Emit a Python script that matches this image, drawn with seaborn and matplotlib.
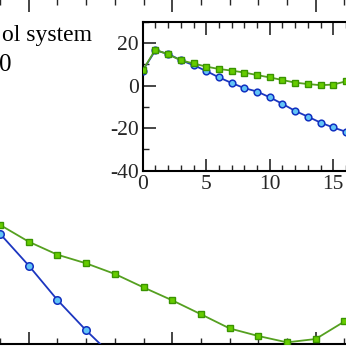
import matplotlib
matplotlib.use("Agg")
import matplotlib.pyplot as plt
import seaborn as sns
from matplotlib.ticker import MultipleLocator

# Data (same series shown in main panel and inset)
steps = [0, 1, 2, 3, 4, 5, 6, 7, 8, 9, 10, 11, 12, 13, 14, 15, 16]
green_vals = [7.1, 16.9, 14.6, 11.9, 10.37, 8.91, 7.78, 7.03, 6.11, 4.94,
              3.82, 2.61, 1.38, 0.72, 0.17, 0.46, 1.98]
blue_vals = [7.0, 16.5, 14.9, 11.9, 9.6, 6.84, 3.85, 1.21, -1.2, -2.8,
             -5.5, -8.6, -11.9, -14.6, -17.4, -19.7, -21.7]
inset_xticks = [0, 5, 10, 15]
inset_yticks = [-40, -20, 0, 20]

sns.set_style("ticks")
plt.rcParams['font.family'] = ['Liberation Serif', 'DejaVu Serif']
plt.rcParams['axes.unicode_minus'] = False

W = 346.0
fig = plt.figure(figsize=(3.46, 3.46), dpi=100)

GREEN_LINE = "#55a020"
GREEN_FACE = "#66cc00"
GREEN_EDGE = "#3a9400"
BLUE_LINE = "#1c36c0"
BLUE_FACE = "#62c4f6"
BLUE_EDGE = "#1030c0"


def draw_series(ax, msq, mci):
    sns.lineplot(x=steps, y=blue_vals, ax=ax, color=BLUE_LINE, linewidth=1.3,
                 marker='o', markersize=mci, markerfacecolor=BLUE_FACE,
                 markeredgecolor=BLUE_EDGE, markeredgewidth=1.1, zorder=3)
    sns.lineplot(x=steps, y=green_vals, ax=ax, color=GREEN_LINE, linewidth=1.3,
                 marker='s', markersize=msq, markerfacecolor=GREEN_FACE,
                 markeredgecolor=GREEN_EDGE, markeredgewidth=1.0, zorder=4)


# Main axes (extends beyond the visible crop)
x0_px = -4 * 28.7
main = fig.add_axes([x0_px / W, 1.7 / W, 20 * 28.7 / W, 345.5 / W])
draw_series(main, 4.6, 5.4)
main.set_xlim(0, 20)
main.set_ylim(0, 30)
main.xaxis.set_major_locator(MultipleLocator(5))
main.xaxis.set_minor_locator(MultipleLocator(1))
main.tick_params(axis='x', which='major', direction='in', length=9, width=1.2,
                 top=True, bottom=True, labelbottom=False)
main.tick_params(axis='x', which='minor', direction='in', length=4.5, width=1.0,
                 top=True, bottom=True)
main.tick_params(axis='y', left=False, right=False, labelleft=False)
for s in main.spines.values():
    s.set_linewidth(1.5)
    s.set_color('black')

# Annotation text (partially cropped in the reference)
fig.text(92 / W, 1 - 41 / W, "ol system", ha='right', va='baseline',
         fontsize=17, color='black')
fig.text(12 / W, 1 - 71 / W, "0", ha='right', va='baseline',
         fontsize=18, color='black')

# Inset axes
inset = fig.add_axes([142.7 / W, (W - 170.7) / W, 20 * 12.7 / W, 149 / W])
draw_series(inset, 4.2, 4.8)
inset.set_xlim(0, 20)
inset.set_ylim(-40, 30)
inset.set_xticks(inset_xticks)
inset.set_yticks(inset_yticks)
inset.xaxis.set_minor_locator(MultipleLocator(1))
inset.yaxis.set_minor_locator(MultipleLocator(10))
inset.tick_params(which='major', direction='in', length=9, width=1.2,
                  top=True, right=True, labelsize=15.5, pad=3)
inset.tick_params(which='minor', direction='in', length=4.5, width=1.0,
                  top=True, right=True)
for s in inset.spines.values():
    s.set_linewidth(1.5)
    s.set_color('black')
inset.set_facecolor('white')

fig.savefig("out.png", dpi=100)
